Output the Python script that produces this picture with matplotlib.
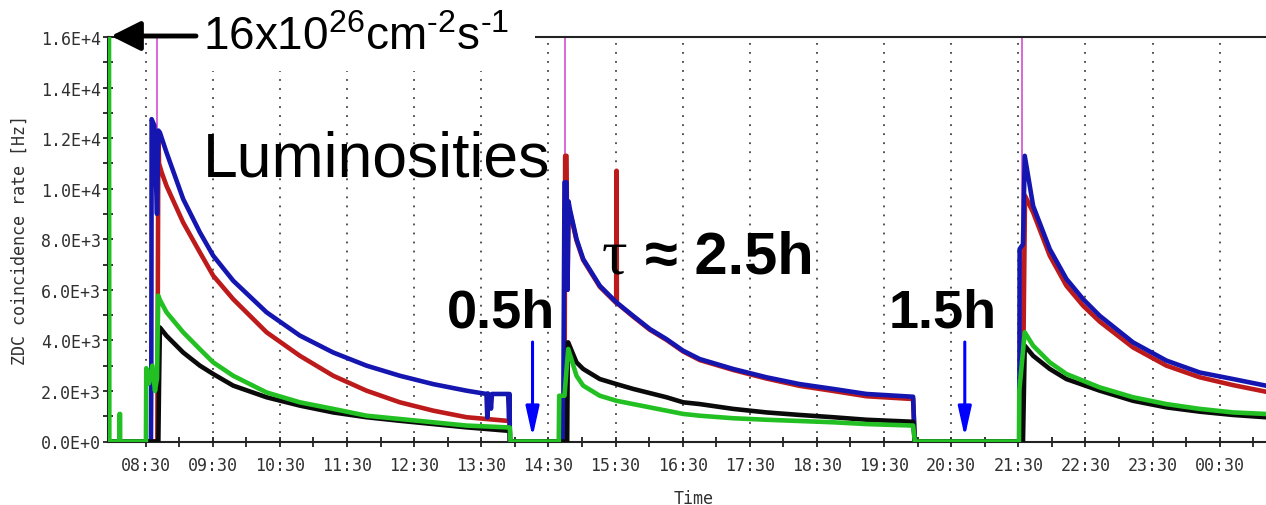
import numpy as np
import matplotlib.pyplot as plt
from matplotlib.patches import Rectangle, FancyArrowPatch

# ZDC coincidence rate over three fills, time in hours (24.5 = 00:30 next day)
blue_t = [7.94, 8.58, 8.585, 8.59, 8.63, 8.67, 8.69, 8.713, 8.812, 9.060, 9.309, 9.507, 9.805,
          10.302, 10.798, 11.295, 11.791, 12.288, 12.784, 13.281, 13.578, 13.59, 13.60, 13.63,
          13.645, 13.66, 13.90, 13.915, 13.922, 13.926,
          14.72, 14.74, 14.77, 14.785, 14.80, 14.82, 14.919, 15.018, 15.266, 15.515, 15.763,
          16.011, 16.259, 16.508, 16.756, 17.252, 17.749, 18.245, 18.742, 19.238, 19.933, 19.958,
          21.515, 21.52, 21.57, 21.596, 21.721, 21.969, 22.217, 22.466, 22.714, 23.210, 23.707,
          24.203, 24.700, 25.187, 25.25]
blue_v = [0, 0, 2300, 12750, 12500, 9000, 12300, 12220, 11430, 9590, 8270, 7350, 6360,
          5110, 4190, 3520, 3000, 2600, 2270, 2010, 1880, 950, 1900, 1750,
          1300, 1880, 1880, 900, 1880, 0,
          0, 10250, 10250, 6000, 9500, 9190, 8010, 7220, 6160, 5500, 4970,
          4450, 4050, 3590, 3260, 2870, 2540, 2270, 2080, 1880, 1770, 0,
          0, 7610, 7800, 11300, 9320, 7610, 6430, 5630, 4970, 3920, 3200,
          2730, 2470, 2210, 2180]

red_t = [7.94, 8.675, 8.69, 8.70, 8.74, 8.812, 9.060, 9.309, 9.507, 9.805, 10.302, 10.798,
         11.295, 11.791, 12.288, 12.784, 13.281, 13.876, 13.92, 13.926,
         14.74, 14.75, 14.77, 14.785, 14.80, 14.82, 14.919, 15.018, 15.266, 15.51, 15.515, 15.52,
         15.763, 16.011, 16.259, 16.508, 16.756, 17.252, 17.749, 18.245, 18.742, 19.238, 19.933,
         19.958,
         21.555, 21.565, 21.60, 21.721, 21.969, 22.217, 22.466, 22.714, 23.210, 23.707, 24.203,
         24.700, 25.187, 25.25]
red_v = [0, 0, 12200, 11000, 10640, 10110, 8660, 7480, 6560, 5630, 4320, 3390,
         2600, 2010, 1550, 1220, 960, 820, 800, 0,
         0, 11300, 11300, 6000, 9300, 9100, 7950, 7180, 6120, 5480, 10710, 5480,
         4940, 4420, 4020, 3560, 3220, 2830, 2490, 2200, 2000, 1790, 1680,
         0,
         0, 800, 9720, 9060, 7350, 6160, 5370, 4740, 3720, 3000, 2540,
         2230, 1970, 1950]

black_t = [7.94, 8.69, 8.70, 8.713, 8.812, 9.060, 9.309, 9.507, 9.805, 10.302, 10.798, 11.295,
           11.791, 12.288, 12.784, 13.281, 13.876, 13.926, 13.93,
           14.78, 14.79, 14.795, 14.919, 15.018, 15.266, 15.515, 15.763, 16.259, 16.508, 16.756,
           17.252, 17.749, 18.245, 18.742, 19.238, 19.933, 19.958,
           21.57, 21.596, 21.721, 21.969, 22.217, 22.714, 23.210, 23.707, 24.203, 24.700, 25.187,
           25.25]
black_v = [0, 0, 2200, 4510, 4180, 3520, 3000, 2670, 2210, 1750, 1420, 1150,
           960, 820, 690, 560, 430, 420, 0,
           0, 3920, 3920, 3130, 2870, 2470, 2270, 2080, 1750, 1550, 1480,
           1290, 1150, 1050, 960, 860, 780, 0,
           0, 3790, 3390, 2870, 2470, 2010, 1610, 1350, 1180, 1050, 960,
           950]

green_t = [7.955, 7.96, 8.11, 8.111, 8.12, 8.121, 8.505, 8.51, 8.55, 8.60, 8.64, 8.67, 8.688,
           8.713, 8.812, 9.060, 9.309, 9.507, 9.805, 10.302, 10.798, 11.295, 11.791, 12.288,
           12.784, 13.281, 13.876, 13.926, 13.935,
           14.655, 14.661, 14.74, 14.795, 14.919, 15.018, 15.266, 15.515, 15.763, 16.259, 16.508,
           16.756, 17.252, 17.749, 18.245, 18.742, 19.238, 19.933, 19.96,
           21.51, 21.515, 21.596, 21.721, 21.969, 22.217, 22.714, 23.210, 23.707, 24.203, 24.700,
           25.187, 25.25]
green_v = [16000, 0, 0, 1090, 1090, 0, 0, 2900, 2300, 3000, 2000, 2500, 5770,
           5600, 5110, 4320, 3650, 3130, 2600, 1940, 1550, 1290, 1020, 890,
           760, 630, 560, 550, 0,
           0, 1810, 1810, 3660, 2600, 2210, 1810, 1610, 1480, 1220, 1090,
           1020, 920, 860, 810, 760, 690, 630, 0,
           0, 2000, 4320, 3790, 3130, 2670, 2140, 1750, 1480, 1290, 1150,
           1090, 1080]

# beam injection markers
magenta_t = [8.672, 14.747, 21.549]
magenta_v = [16000, 16000, 16000]

x_ticks = [8.5 + i for i in range(17)]
x_labels = ["08:30", "09:30", "10:30", "11:30", "12:30", "13:30", "14:30", "15:30", "16:30",
            "17:30", "18:30", "19:30", "20:30", "21:30", "22:30", "23:30", "00:30"]
y_ticks = [0, 2000, 4000, 6000, 8000, 10000, 12000, 14000, 16000]
y_labels = ["0.0E+0", "2.0E+3", "4.0E+3", "6.0E+3", "8.0E+3",
            "1.0E+4", "1.2E+4", "1.4E+4", "1.6E+4"]

# gap markers (hours)
gap_t = [14.264, 20.703]

plt.rcParams['mathtext.fontset'] = 'custom'
plt.rcParams['mathtext.rm'] = 'Liberation Sans'
plt.rcParams['mathtext.default'] = 'regular'

W, H = 1266, 506
fig = plt.figure(figsize=(W / 100, H / 100), dpi=100)
ax = fig.add_axes([108 / W, 1 - 442.5 / H, (W - 108) / W, (442.5 - 38) / H])

ax.vlines(magenta_t, 0, magenta_v, color='#d24fd2', lw=1.2, zorder=2)
ax.plot(red_t, red_v, color='#bd1b1b', lw=3.3, zorder=3)
ax.plot(blue_t, blue_v, color='#1515b0', lw=3.3, zorder=4)
ax.plot(black_t, black_v, color='#0a0a0a', lw=3.3, zorder=5)
ax.plot(green_t, green_v, color='#22c022', lw=3.3, zorder=6)

ax.set_xlim(7.94, 25.19)
ax.set_ylim(0, 16000)

mono = 'DejaVu Sans Mono'
ax.set_xticks(x_ticks)
ax.set_xticklabels(x_labels, family=mono, fontsize=12, color='#303030')
ax.set_xticks([9.0 + i for i in range(17)], minor=True)
ax.set_yticks(y_ticks)
ax.set_yticklabels(y_labels, family=mono, fontsize=12, color='#303030')
ax.set_yticks([1000 + 2000 * i for i in range(8)], minor=True)
ax.tick_params(which='both', direction='inout', length=7, width=1.3, color='#222222')
ax.tick_params(axis='x', which='both', pad=7)
ax.tick_params(axis='y', which='both', pad=1.5)

ax.grid(axis='x', which='major', linestyle=(0, (1, 4)), color='#444444', lw=1.3)

for side in ['left', 'bottom', 'top']:
    ax.spines[side].set_color('#222222')
    ax.spines[side].set_linewidth(1.5)
ax.spines['right'].set_visible(False)

ax.set_xlabel('Time', family=mono, fontsize=12, color='#303030')
ax.xaxis.set_label_coords((693.5 - 108) / (W - 108), (442.5 - 490) / 404.5)
ax.set_ylabel('ZDC coincidence rate [Hz]', family=mono, fontsize=12, color='#303030')
ax.yaxis.set_label_coords((29 - 108) / (W - 108), 0.5)

# downward arrows marking the time between fills
for t in gap_t:
    ax.annotate('', xy=(t, 180), xytext=(t, 3935),
                arrowprops=dict(arrowstyle='-|>,head_length=1.8,head_width=0.4',
                                color='#0000ff', lw=2.2, shrinkA=0, shrinkB=0,
                                mutation_scale=10), zorder=7)

sans = ['Liberation Sans', 'DejaVu Sans']
fig.add_artist(Rectangle((170 / W, 1 - 72 / H), 365 / W, 72 / H, transform=fig.transFigure,
                         facecolor='white', edgecolor='none', zorder=1))
fig.text(203 / W, 1 - 50 / H, '16x10$^{26}$cm$^{\u20102}$s$^{\u20101}$', family=sans,
         fontsize=33, va='baseline', zorder=2)
fig.add_artist(FancyArrowPatch((196 / W, 1 - 37 / H), (111 / W, 1 - 37 / H),
                               transform=fig.transFigure,
                               arrowstyle='-|>,head_length=0.9,head_width=0.45',
                               mutation_scale=20, lw=3.5, color='black',
                               shrinkA=0, shrinkB=0, zorder=3))
fig.text(203 / W, 1 - 177 / H, 'Luminosities', family=sans, fontsize=45, va='baseline')
fig.text(602 / W, 1 - 273 / H, 'τ', family=['Liberation Serif', 'DejaVu Serif'],
         fontsize=46, va='baseline')
fig.text(645 / W, 1 - 273 / H, '≈ 2.5h', family=sans, fontsize=43, fontweight='bold',
         va='baseline')
fig.text(555 / W, 1 - 327 / H, '0.5h', family=sans, fontsize=39, fontweight='bold',
         ha='right', va='baseline')
fig.text(997 / W, 1 - 327 / H, '1.5h', family=sans, fontsize=39, fontweight='bold',
         ha='right', va='baseline')

fig.savefig('out.png', dpi=100)
